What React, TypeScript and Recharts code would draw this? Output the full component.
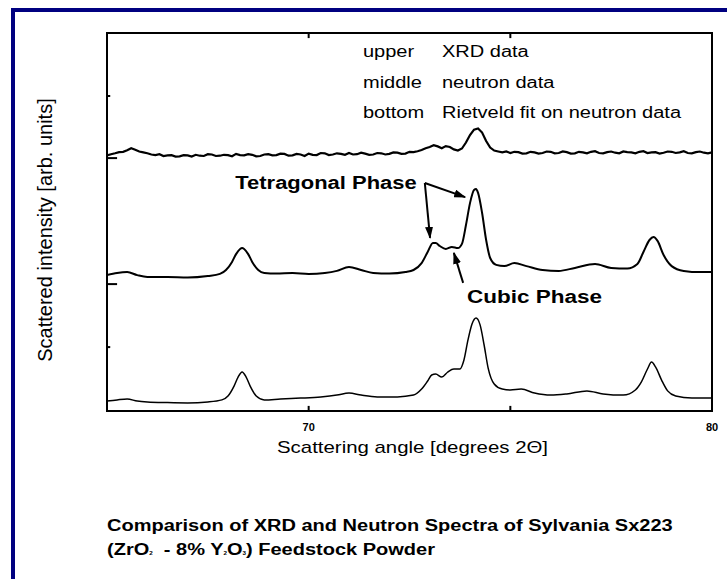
import React from 'react';
import { LineChart, Line, XAxis, YAxis, ReferenceLine, ReferenceArea } from 'recharts';

// ---- data (angle in degrees 2Θ, intensity in arbitrary stacked units) ----
const xrdAngle = [
  65.0,65.1,65.2,65.3,65.4,65.5,65.6,65.7,65.8,65.9,
  66.0,66.1,66.2,66.3,66.4,66.5,66.6,66.7,66.8,66.9,
  67.0,67.1,67.2,67.3,67.4,67.5,67.6,67.7,67.8,67.9,
  68.0,68.1,68.2,68.3,68.4,68.5,68.6,68.7,68.8,68.9,
  69.0,69.1,69.2,69.3,69.4,69.5,69.6,69.7,69.8,69.9,
  70.0,70.1,70.2,70.3,70.4,70.5,70.6,70.7,70.8,70.9,
  71.0,71.1,71.2,71.3,71.4,71.5,71.6,71.7,71.8,71.9,
  72.0,72.1,72.2,72.3,72.4,72.5,72.6,72.7,72.8,72.9,
  73.0,73.1,73.2,73.3,73.4,73.5,73.6,73.7,73.8,73.9,
  74.0,74.1,74.2,74.3,74.4,74.5,74.6,74.7,74.8,74.9,
  75.0,75.1,75.2,75.3,75.4,75.5,75.6,75.7,75.8,75.9,
  76.0,76.1,76.2,76.3,76.4,76.5,76.6,76.7,76.8,76.9,
  77.0,77.1,77.2,77.3,77.4,77.5,77.6,77.7,77.8,77.9,
  78.0,78.1,78.2,78.3,78.4,78.5,78.6,78.7,78.8,78.9,
  79.0,79.1,79.2,79.3,79.4,79.5,79.6,79.7,79.8,79.9,
  80.0];
const xrdValue = [
  85.2,85.6,85.9,86.3,86.4,86.9,87.6,87.1,86.5,86.2,
  85.9,85.5,85.3,85.6,85.0,85.2,85.3,84.8,84.9,85.3,
  85.2,84.8,85.4,85.1,85.0,85.6,85.5,85.0,85.1,85.4,
  85.3,84.9,85.7,85.3,85.2,85.6,85.4,84.9,85.0,85.5,
  85.6,85.2,85.3,85.8,85.7,85.1,85.2,85.7,85.5,85.0,
  85.8,85.4,85.3,86.0,85.9,85.3,85.5,85.9,85.7,85.4,
  86.0,85.5,85.6,86.1,85.8,85.4,85.5,86.0,85.9,85.5,
  85.7,86.2,86.1,85.7,85.8,86.4,86.3,86.6,87.0,87.6,
  88.0,88.6,88.2,87.6,88.3,88.0,87.2,86.8,87.5,89.5,
  92.0,93.8,94.2,92.8,90.0,87.8,86.8,86.5,86.2,86.5,
  86.0,86.4,86.3,85.8,85.9,86.4,86.2,85.8,86.0,86.5,
  86.4,85.9,86.0,86.5,86.3,85.8,85.9,86.4,86.2,85.9,
  86.4,86.6,86.0,85.9,86.3,86.5,86.1,85.9,86.5,86.3,
  86.2,85.9,86.4,86.6,86.0,86.2,86.3,85.8,86.1,86.5,
  86.4,86.0,86.2,86.6,86.0,85.9,86.3,86.5,86.1,85.9,
  86.2];

const neutronAngle = [65.0,65.25,65.5,65.75,66.0,66.5,67.0,67.5,67.8,67.95,68.1,68.2,68.3,68.35,68.4,68.5,68.6,68.75,68.9,69.2,69.6,70.0,70.4,70.7,71.0,71.3,71.6,72.0,72.4,72.6,72.8,72.95,73.08,73.15,73.25,73.4,73.55,73.7,73.8,73.9,74.0,74.1,74.15,74.2,74.3,74.4,74.5,74.65,74.85,75.1,75.4,75.8,76.2,76.6,77.1,77.5,77.9,78.15,78.3,78.45,78.55,78.65,78.8,79.0,79.3,79.7,80.0];
const neutronValue = [45.3,46.0,46.3,45.3,44.7,44.7,44.5,45.0,45.7,47.0,49.7,52.3,54.0,54.3,54.0,52.3,49.7,47.0,46.0,45.8,46.0,45.7,46.0,46.7,48.0,47.0,46.0,45.8,46.3,47.0,49.3,53.0,56.0,56.0,55.0,54.0,54.7,54.3,55.7,62.0,69.3,73.7,74.0,72.7,66.0,57.0,51.0,48.7,48.3,49.3,48.3,47.0,46.7,47.7,49.0,47.7,47.5,49.0,53.0,57.0,58.0,56.7,52.0,48.3,46.7,46.3,46.3];

const fitAngle = [65.0,65.25,65.5,65.75,66.0,66.5,67.0,67.5,67.85,68.0,68.15,68.25,68.35,68.45,68.55,68.7,68.9,69.3,69.8,70.3,70.7,71.0,71.3,71.7,72.2,72.6,72.8,72.95,73.05,73.15,73.3,73.45,73.6,73.75,73.85,73.95,74.05,74.15,74.25,74.35,74.45,74.6,74.8,75.0,75.27,75.6,76.0,76.4,76.9,77.3,77.8,78.1,78.25,78.4,78.5,78.6,78.75,78.9,79.1,79.5,80.0];
const fitValue = [3.3,3.7,4.0,3.3,3.0,2.8,2.7,3.0,3.7,5.0,8.3,11.3,13.0,11.3,8.3,5.0,3.7,4.0,4.3,4.7,5.3,6.0,5.3,4.7,4.7,5.3,7.3,10.0,12.0,12.3,11.3,13.0,14.0,14.0,17.0,23.7,29.0,31.0,28.7,22.0,14.3,9.0,7.3,7.0,7.3,6.0,5.3,5.7,6.7,5.7,5.3,7.0,9.7,14.0,16.3,14.7,10.3,6.7,5.0,4.3,4.3];

const xTicks = [70, 80];
const xMinorTicks = [70, 75];
const yTicksLong = [84.3, 42.3];
const yTicksShort = [105, 21.3];

const legendKeys = ['upper', 'middle', 'bottom'];
const legendTexts = ['XRD data', 'neutron data', 'Rietveld fit on neutron data'];

const xrdData = xrdAngle.map((a, i) => ({ a, v: xrdValue[i] }));
const neutronData = neutronAngle.map((a, i) => ({ a, v: neutronValue[i] }));
const fitData = fitAngle.map((a, i) => ({ a, v: fitValue[i] }));

const FONT = '"Liberation Sans", Arial, Helvetica, sans-serif';

const arrowShape = (p: any) => (
  <line x1={p.x1} y1={p.y1} x2={p.x2} y2={p.y2} stroke="#000" strokeWidth={2} markerEnd="url(#arrowHead)" />
);

const txt = (extra: React.CSSProperties): React.CSSProperties => ({
  position: 'absolute',
  fontFamily: FONT,
  lineHeight: 1,
  whiteSpace: 'nowrap',
  color: '#000',
  ...extra,
});

export default function App() {
  return (
    <div style={{ position: 'absolute', left: 0, top: 0, width: 727, height: 579, background: '#fff', overflow: 'hidden' }}>
      <div style={{ position: 'absolute', left: 11, top: 8, width: 716, height: 571, borderTop: '4px solid #000080', borderLeft: '4px solid #000080', boxSizing: 'border-box' }} />
      <div style={{ position: 'absolute', left: 0, top: 0 }}>
        <LineChart width={727} height={579} data={xrdData} margin={{ top: 33, right: 15, bottom: 138, left: 107 }}>
          <defs>
            <marker id="arrowHead" viewBox="0 0 12 8" refX="11" refY="4" markerWidth="12" markerHeight="8" markerUnits="userSpaceOnUse" orient="auto">
              <path d="M0,0 L12,4 L0,8 z" fill="#000" />
            </marker>
          </defs>
          <XAxis dataKey="a" type="number" domain={[65, 80]} ticks={xTicks} axisLine={false} tickLine={false} height={30} tickMargin={6}
            tick={{ fill: '#000', fontSize: 11, fontWeight: 700, fontFamily: FONT }} allowDataOverflow />
          <YAxis type="number" domain={[0, 126]} hide allowDataOverflow />
          <Line data={xrdData} dataKey="v" type="linear" stroke="#000" strokeWidth={2.2} dot={false} isAnimationActive={false} />
          <Line data={neutronData} dataKey="v" type="monotone" stroke="#000" strokeWidth={2} dot={false} isAnimationActive={false} />
          <Line data={fitData} dataKey="v" type="monotone" stroke="#000" strokeWidth={1.5} dot={false} isAnimationActive={false} />
          <ReferenceArea x1={65} x2={80} y1={0} y2={126} fill="none" stroke="#000" strokeWidth={2} ifOverflow="visible" />
          {xMinorTicks.map((t) => (
            <ReferenceLine key={'b' + t} segment={[{ x: t, y: 0 }, { x: t, y: 1.7 }]} stroke="#000" strokeWidth={2} ifOverflow="visible" />
          ))}
          {xMinorTicks.map((t) => (
            <ReferenceLine key={'t' + t} segment={[{ x: t, y: 126 }, { x: t, y: 124.3 }]} stroke="#000" strokeWidth={2} ifOverflow="visible" />
          ))}
          {yTicksLong.map((t) => (
            <ReferenceLine key={'yl' + t} segment={[{ x: 65, y: t }, { x: 65.25, y: t }]} stroke="#000" strokeWidth={2} ifOverflow="visible" />
          ))}
          {yTicksShort.map((t) => (
            <ReferenceLine key={'ys' + t} segment={[{ x: 65, y: t }, { x: 65.08, y: t }]} stroke="#000" strokeWidth={2} ifOverflow="visible" />
          ))}
          <ReferenceLine segment={[{ x: 72.88, y: 76 }, { x: 73.01, y: 57.7 }]} ifOverflow="visible" shape={arrowShape} />
          <ReferenceLine segment={[{ x: 72.88, y: 76 }, { x: 73.88, y: 71.3 }]} ifOverflow="visible" shape={arrowShape} />
          <ReferenceLine segment={[{ x: 73.83, y: 42.7 }, { x: 73.6, y: 52.7 }]} ifOverflow="visible" shape={arrowShape} />
        </LineChart>
      </div>

      {legendKeys.map((k, i) => (
        <div key={k} style={txt({ left: 363, top: 52 + i * 30.5, fontSize: 16, transform: 'translateY(-50%) scaleX(1.25)', transformOrigin: 'left center' })}>{k}</div>
      ))}
      {legendTexts.map((k, i) => (
        <div key={k} style={txt({ left: 442, top: 52 + i * 30.5, fontSize: 16, transform: 'translateY(-50%) scaleX(1.25)', transformOrigin: 'left center' })}>{k}</div>
      ))}

      <div style={txt({ right: 310, top: 183, fontSize: 18, fontWeight: 700, transform: 'translateY(-50%) scaleX(1.22)', transformOrigin: 'right center' })}>Tetragonal Phase</div>
      <div style={txt({ left: 467, top: 297, fontSize: 18, fontWeight: 700, transform: 'translateY(-50%) scaleX(1.25)', transformOrigin: 'left center' })}>Cubic Phase</div>

      <div style={txt({ left: 277, top: 447, fontSize: 17, transform: 'translateY(-50%) scaleX(1.2)', transformOrigin: 'left center' })}>Scattering angle [degrees 2Θ]</div>

      <div style={txt({ left: 45, top: 230, fontSize: 20, transform: 'translate(-50%, -50%) rotate(-90deg)' })}>Scattered intensity [arb. units]</div>

      <div style={txt({ left: 107, top: 526, fontSize: 16, fontWeight: 700, transform: 'translateY(-50%) scaleX(1.25)', transformOrigin: 'left center' })}>Comparison of XRD and Neutron Spectra of Sylvania Sx223</div>
      <div style={txt({ left: 107, top: 550, fontSize: 16, fontWeight: 700, transform: 'translateY(-50%) scaleX(1.25)', transformOrigin: 'left center' })}>
        (ZrO<span style={{ fontSize: 5 }}>2</span>&nbsp; - 8% Y<span style={{ fontSize: 5 }}>2</span>O<span style={{ fontSize: 5 }}>3</span>) Feedstock Powder
      </div>
    </div>
  );
}
